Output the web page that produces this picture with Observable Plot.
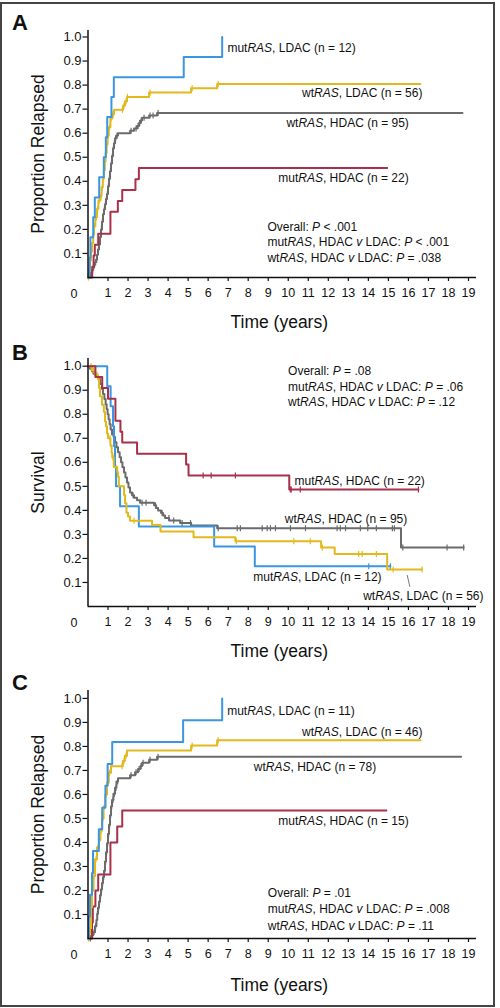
<!DOCTYPE html>
<html><head><meta charset="utf-8">
<script src="https://cdn.jsdelivr.net/npm/d3@7"></script>
<script src="https://cdn.jsdelivr.net/npm/@observablehq/plot@0.6"></script>
<style>
body{margin:0;background:#fff;font-family:"Liberation Sans",Arial,Helvetica,sans-serif;}
#wrap{position:relative;width:500px;height:1008px;overflow:hidden;}
#frame{position:absolute;left:0;top:2px;width:495px;height:1005px;border:2px solid #444;box-sizing:border-box;}
.panel{position:absolute;left:0;}
.letter{position:absolute;left:12px;font:bold 22px/1 "Liberation Sans",Arial,sans-serif;color:#111;}
</style></head><body>
<div id="wrap"><div id="frame"></div></div>
<script>
// ---------- shared ticks / colors ----------
const timeTicks = [1,2,3,4,5,6,7,8,9,10,11,12,13,14,15,16,17,18,19];
const propTicks = [0.1,0.2,0.3,0.4,0.5,0.6,0.7,0.8,0.9,1.0];
const colMutLDAC = "#3b96e2";
const colWtLDAC  = "#e2b91c";
const colWtHDAC  = "#6b6b6b";
const colMutHDAC = "#a8304b";

// ---------- Panel A: Proportion relapsed ----------
const A_mutLDAC = [[0,0],[0.08,0.083],[0.12,0.167],[0.26,0.25],[0.34,0.333],[0.56,0.417],[0.79,0.5],[0.89,0.583],[0.96,0.667],[1.17,0.75],[1.29,0.833],[4.78,0.917],[6.7,1.0]];
const A_wtLDAC = [[0,0],[0.03,0.018],[0.06,0.036],[0.1,0.071],[0.15,0.107],[0.2,0.143],[0.26,0.18],[0.3,0.214],[0.37,0.25],[0.45,0.286],[0.52,0.32],[0.62,0.34],[0.68,0.375],[0.74,0.41],[0.79,0.446],[0.84,0.482],[0.88,0.518],[0.93,0.554],[0.98,0.589],[1.04,0.625],[1.12,0.661],[1.22,0.679],[1.3,0.697],[1.75,0.715],[1.85,0.733],[1.95,0.751],[3.05,0.769],[5.15,0.787],[6.45,0.805],[16.6,0.805]];
const A_wtLDAC_cens = [0.02,0.05,0.33,0.42,0.48,0.56,0.66,0.72,0.77,0.82,0.9,0.95,1.0,1.08,1.15,1.25,1.72,1.8,1.9,1.97,3.1,5.2,6.5];
const A_wtHDAC = [[0,0],[0.1,0.01],[0.15,0.021],[0.2,0.032],[0.25,0.042],[0.3,0.053],[0.35,0.063],[0.4,0.074],[0.45,0.095],[0.5,0.116],[0.55,0.137],[0.6,0.168],[0.65,0.2],[0.7,0.232],[0.75,0.263],[0.8,0.284],[0.85,0.305],[0.9,0.326],[0.95,0.347],[1.0,0.379],[1.05,0.411],[1.1,0.442],[1.15,0.474],[1.2,0.505],[1.25,0.537],[1.3,0.558],[1.35,0.579],[1.42,0.59],[1.5,0.6],[2.1,0.61],[2.3,0.62],[2.45,0.63],[2.55,0.642],[2.62,0.653],[2.7,0.664],[3.05,0.674],[3.45,0.684],[18.7,0.684]];
const A_wtHDAC_cens = [0.1,0.14,0.18,0.23,0.28,0.33,0.38,0.43,0.52,0.57,0.67,0.72,0.82,0.87,0.92,0.97,1.02,1.07,1.12,1.17,1.22,1.27,1.32,1.38,1.45,2.15,2.4,2.5,2.58,2.66,2.8,3.1,3.25,3.5];
const A_mutHDAC = [[0,0],[0.21,0.045],[0.28,0.091],[0.34,0.136],[0.51,0.182],[1.12,0.273],[1.49,0.318],[1.71,0.364],[2.37,0.409],[2.54,0.455],[14.94,0.455]];
const A_notes = [
  ["mut*RAS*, LDAC (n = 12)", 6.96, 0.952],
  ["wt*RAS*, LDAC (n = 56)", 10.69, 0.765],
  ["wt*RAS*, HDAC (n = 95)", 9.91, 0.640],
  ["mut*RAS*, HDAC (n = 22)", 9.5, 0.412],
  ["Overall: *P* < .001", 8.96, 0.208],
  ["mut*RAS*, HDAC *v* LDAC: *P* < .001", 8.96, 0.146],
  ["wt*RAS*, HDAC *v* LDAC: *P* = .038", 8.96, 0.079]
];

// ---------- Panel B: Survival ----------
const B_mutHDAC = [[0,1],[0.37,0.955],[0.71,0.909],[1.0,0.864],[1.37,0.773],[1.62,0.727],[1.71,0.682],[2.45,0.636],[4.9,0.591],[5.02,0.545],[10.05,0.487],[16.5,0.487]];
const B_mutHDAC_cens = [5.75,6.15,7.36,10.1,10.15,10.6,16.5];
const B_mutLDAC = [[0,1],[0.96,0.917],[1.13,0.833],[1.25,0.75],[1.3,0.667],[1.35,0.583],[1.4,0.5],[1.6,0.417],[2.54,0.333],[6.3,0.25],[8.33,0.167],[15.1,0.167]];
const B_mutLDAC_cens = [14.02,15.1];
const B_wtLDAC = [[0,1],[0.2,0.982],[0.35,0.964],[0.5,0.946],[0.55,0.91],[0.6,0.875],[0.7,0.84],[0.79,0.81],[0.85,0.77],[0.9,0.75],[0.95,0.72],[1.0,0.7],[1.12,0.67],[1.18,0.64],[1.21,0.62],[1.29,0.58],[1.46,0.56],[1.5,0.54],[1.54,0.5],[1.8,0.464],[1.85,0.43],[1.92,0.39],[2.0,0.375],[2.1,0.357],[3.2,0.339],[3.62,0.312],[5.27,0.288],[7.36,0.272],[11.64,0.246],[12.32,0.218],[14.94,0.154],[16.68,0.154]];
const B_wtLDAC_cens = [0.15,0.3,0.45,1.1,1.25,2.3,7.4,10.28,11.1,11.7,13.52,13.69,14.4,15.24,16.68];
const B_wtHDAC = [[0,1],[0.1,0.989],[0.2,0.979],[0.3,0.968],[0.4,0.958],[0.5,0.947],[0.6,0.926],[0.7,0.905],[0.75,0.884],[0.82,0.863],[0.88,0.842],[0.93,0.821],[0.98,0.8],[1.03,0.779],[1.08,0.758],[1.13,0.737],[1.2,0.716],[1.28,0.705],[1.35,0.684],[1.42,0.663],[1.5,0.642],[1.58,0.621],[1.65,0.6],[1.72,0.579],[1.8,0.558],[1.87,0.537],[1.95,0.516],[2.02,0.495],[2.1,0.474],[2.2,0.463],[2.3,0.453],[2.45,0.442],[2.6,0.432],[3.3,0.421],[3.4,0.41],[3.5,0.4],[3.65,0.389],[3.75,0.379],[3.85,0.368],[4.05,0.358],[4.6,0.347],[5.15,0.337],[6.45,0.326],[15.63,0.246],[18.76,0.246]];
const B_wtHDAC_cens = [0.25,0.55,1.3,2.25,2.7,2.9,3.37,3.7,4.04,4.28,4.7,5.12,6.5,7.45,7.61,8.7,8.95,9.11,9.36,10.11,10.86,12.44,12.6,12.86,13.6,13.97,14.4,15.2,15.3,15.72,17.93,18.76];
const B_notes = [
  ["Overall: *P* = .08", 9.99, 0.98],
  ["mut*RAS*, HDAC *v* LDAC: *P* = .06", 9.99, 0.914],
  ["wt*RAS*, HDAC *v* LDAC: *P* = .12", 9.99, 0.851],
  ["mut*RAS*, HDAC (n = 22)", 10.31, 0.523],
  ["wt*RAS*, HDAC (n = 95)", 9.83, 0.364],
  ["mut*RAS*, LDAC (n = 12)", 8.25, 0.124],
  ["wt*RAS*, LDAC (n = 56)", 13.74, 0.045]
];
const B_leader = [[15.94, 0.131, 16.07, 0.082]];

// ---------- Panel C: Proportion relapsed ----------
const C_mutLDAC = [[0,0],[0.04,0.091],[0.1,0.182],[0.2,0.273],[0.25,0.364],[0.54,0.455],[0.71,0.545],[0.87,0.636],[0.98,0.727],[1.21,0.818],[4.75,0.909],[6.7,1.0]];
const C_wtLDAC = [[0,0],[0.05,0.022],[0.1,0.043],[0.15,0.13],[0.2,0.2],[0.28,0.26],[0.35,0.33],[0.45,0.38],[0.55,0.41],[0.62,0.45],[0.7,0.5],[0.78,0.55],[0.86,0.6],[0.95,0.65],[1.04,0.69],[1.15,0.717],[1.74,0.739],[1.84,0.761],[1.95,0.783],[5.15,0.804],[6.45,0.826],[16.6,0.826]];
const C_wtLDAC_cens = [0.03,0.08,0.3,0.4,0.5,0.58,0.66,0.74,0.82,0.9,0.98,1.08,1.15,1.7,1.8,1.9,5.2,6.5];
const C_wtHDAC = [[0,0],[0.15,0.013],[0.25,0.026],[0.35,0.051],[0.42,0.077],[0.46,0.103],[0.5,0.128],[0.55,0.154],[0.6,0.18],[0.65,0.205],[0.7,0.231],[0.75,0.256],[0.8,0.282],[0.85,0.321],[0.9,0.359],[0.95,0.397],[1.0,0.436],[1.05,0.474],[1.1,0.513],[1.15,0.551],[1.2,0.577],[1.27,0.603],[1.35,0.628],[1.42,0.654],[1.5,0.667],[2.1,0.68],[2.35,0.693],[2.5,0.706],[2.62,0.719],[2.7,0.732],[3.05,0.745],[3.45,0.757],[18.63,0.757]];
const C_wtHDAC_cens = [0.12,0.2,0.3,0.38,0.47,0.53,0.58,0.63,0.68,0.73,0.78,0.83,0.88,0.93,0.98,1.03,1.08,1.13,1.18,1.25,1.32,1.4,1.48,2.15,2.4,2.55,2.65,2.75,3.1,3.5];
const C_mutHDAC = [[0,0],[0.2,0.067],[0.24,0.133],[0.37,0.2],[0.51,0.267],[1.12,0.4],[1.46,0.467],[1.71,0.533],[14.9,0.533]];
const C_notes = [
  ["mut*RAS*, LDAC (n = 11)", 6.95, 0.948],
  ["wt*RAS*, LDAC (n = 46)", 10.69, 0.861],
  ["wt*RAS*, HDAC (n = 78)", 8.28, 0.715],
  ["mut*RAS*, HDAC (n = 15)", 9.5, 0.489],
  ["Overall: *P* = .01", 8.98, 0.1875],
  ["mut*RAS*, HDAC *v* LDAC: *P* = .008", 8.98, 0.121],
  ["wt*RAS*, HDAC *v* LDAC: *P* = .11", 8.98, 0.0525]
];

// ---------- helpers ----------
const FONT = '"Liberation Sans", Arial, Helvetica, sans-serif';
const bis = d3.bisector(d => d[0]).right;
function stepValue(steps, t) { return steps[Math.max(0, bis(steps, t) - 1)][1]; }
const vbar = { draw(ctx, size) { const r = Math.sqrt(size / Math.PI); ctx.moveTo(0, -r); ctx.lineTo(0, r); } };

function italicize(svg) {
  svg.querySelectorAll("text").forEach(t => {
    const s = t.textContent;
    if (!s.includes("*")) return;
    while (t.firstChild) t.removeChild(t.firstChild);
    s.split("*").forEach((p, i) => {
      if (!p) return;
      const ts = document.createElementNS("http://www.w3.org/2000/svg", "tspan");
      if (i % 2) ts.setAttribute("font-style", "italic");
      ts.textContent = p;
      t.appendChild(ts);
    });
  });
}

function panel(cfg) {
  const marks = [];
  for (const c of cfg.curves) {
    marks.push(Plot.line(c.data, {x: d => d[0], y: d => d[1], curve: "step-after", stroke: c.color, strokeWidth: 2}));
    if (c.cens) {
      marks.push(Plot.dot(c.cens.map(t => [t, stepValue(c.data, t)]), {
        x: d => d[0], y: d => d[1], symbol: vbar, r: 3, stroke: c.color, strokeWidth: 1.2, fill: "none"
      }));
    }
  }
  marks.push(
    Plot.ruleY([0], {stroke: "#111", strokeWidth: 1.5}),
    Plot.ruleX([0], {stroke: "#111", strokeWidth: 1.5}),
    Plot.axisX(timeTicks, {tickSize: 4, tickPadding: 7, fontSize: 12.5, label: null, tickFormat: d => String(d), stroke: "#111", strokeWidth: 1.2}),
    Plot.axisY(propTicks, {tickSize: 5, tickPadding: 1.5, fontSize: 13, label: null, tickFormat: d3.format(".1f"), stroke: "#111", strokeWidth: 1.2}),
    Plot.text(["0"], {x: 0, y: 0, dx: -14, dy: 16, fontSize: 12.5, fill: "#111"}),
    Plot.text([cfg.ylabel], {frameAnchor: "left", textAnchor: "middle", lineAnchor: "middle", dx: -50, rotate: -90, fontSize: 17.5, fill: "#111"}),
    Plot.text(["Time (years)"], {frameAnchor: "bottom", textAnchor: "middle", lineAnchor: "middle", dx: -3, dy: cfg.xlabDy, fontSize: 17.5, fill: "#111"}),
    Plot.text(cfg.notes, {x: d => d[1], y: d => d[2], text: d => d[0], textAnchor: "start", fontSize: 12, fill: "#111"})
  );
  if (cfg.leader) {
    marks.push(Plot.link(cfg.leader, {x1: d => d[0], y1: d => d[1], x2: d => d[2], y2: d => d[3], stroke: "#555", strokeWidth: 0.8}));
  }
  const svg = Plot.plot({
    width: 500, height: cfg.height,
    marginLeft: 87.5, marginRight: 24, marginTop: cfg.mt, marginBottom: cfg.mb,
    x: {domain: [0, 19.4]},
    y: {domain: [0, cfg.ytop]},
    style: {fontFamily: FONT, color: "#111", background: "transparent", overflow: "visible"},
    marks
  });
  italicize(svg);
  const div = document.createElement("div");
  div.className = "panel";
  div.style.top = cfg.top + "px";
  div.appendChild(svg);
  const L = document.createElement("div");
  L.className = "letter";
  L.style.top = (cfg.top + 12) + "px";
  L.textContent = cfg.letter;
  const wrap = document.getElementById("wrap");
  wrap.appendChild(div);
  wrap.appendChild(L);
}

panel({letter: "A", top: 0, height: 330, mt: 30, mb: 53, ytop: 1.027, ylabel: "Proportion Relapsed", xlabDy: 44.5,
  curves: [
    {data: A_wtHDAC, cens: A_wtHDAC_cens, color: colWtHDAC},
    {data: A_mutHDAC, color: colMutHDAC},
    {data: A_wtLDAC, cens: A_wtLDAC_cens, color: colWtLDAC},
    {data: A_mutLDAC, color: colMutLDAC}
  ], notes: A_notes});

panel({letter: "B", top: 330, height: 330, mt: 28, mb: 54, ytop: 1.032, ylabel: "Survival", xlabDy: 44.5,
  curves: [
    {data: B_wtHDAC, cens: B_wtHDAC_cens, color: colWtHDAC},
    {data: B_mutLDAC, cens: B_mutLDAC_cens, color: colMutLDAC},
    {data: B_wtLDAC, cens: B_wtLDAC_cens, color: colWtLDAC},
    {data: B_mutHDAC, cens: B_mutHDAC_cens, color: colMutHDAC}
  ], notes: B_notes, leader: B_leader});

panel({letter: "C", top: 660, height: 348, mt: 30, mb: 70, ytop: 1.033, ylabel: "Proportion Relapsed", xlabDy: 47,
  curves: [
    {data: C_wtHDAC, cens: C_wtHDAC_cens, color: colWtHDAC},
    {data: C_mutHDAC, color: colMutHDAC},
    {data: C_wtLDAC, cens: C_wtLDAC_cens, color: colWtLDAC},
    {data: C_mutLDAC, color: colMutLDAC}
  ], notes: C_notes});
</script></body></html>
